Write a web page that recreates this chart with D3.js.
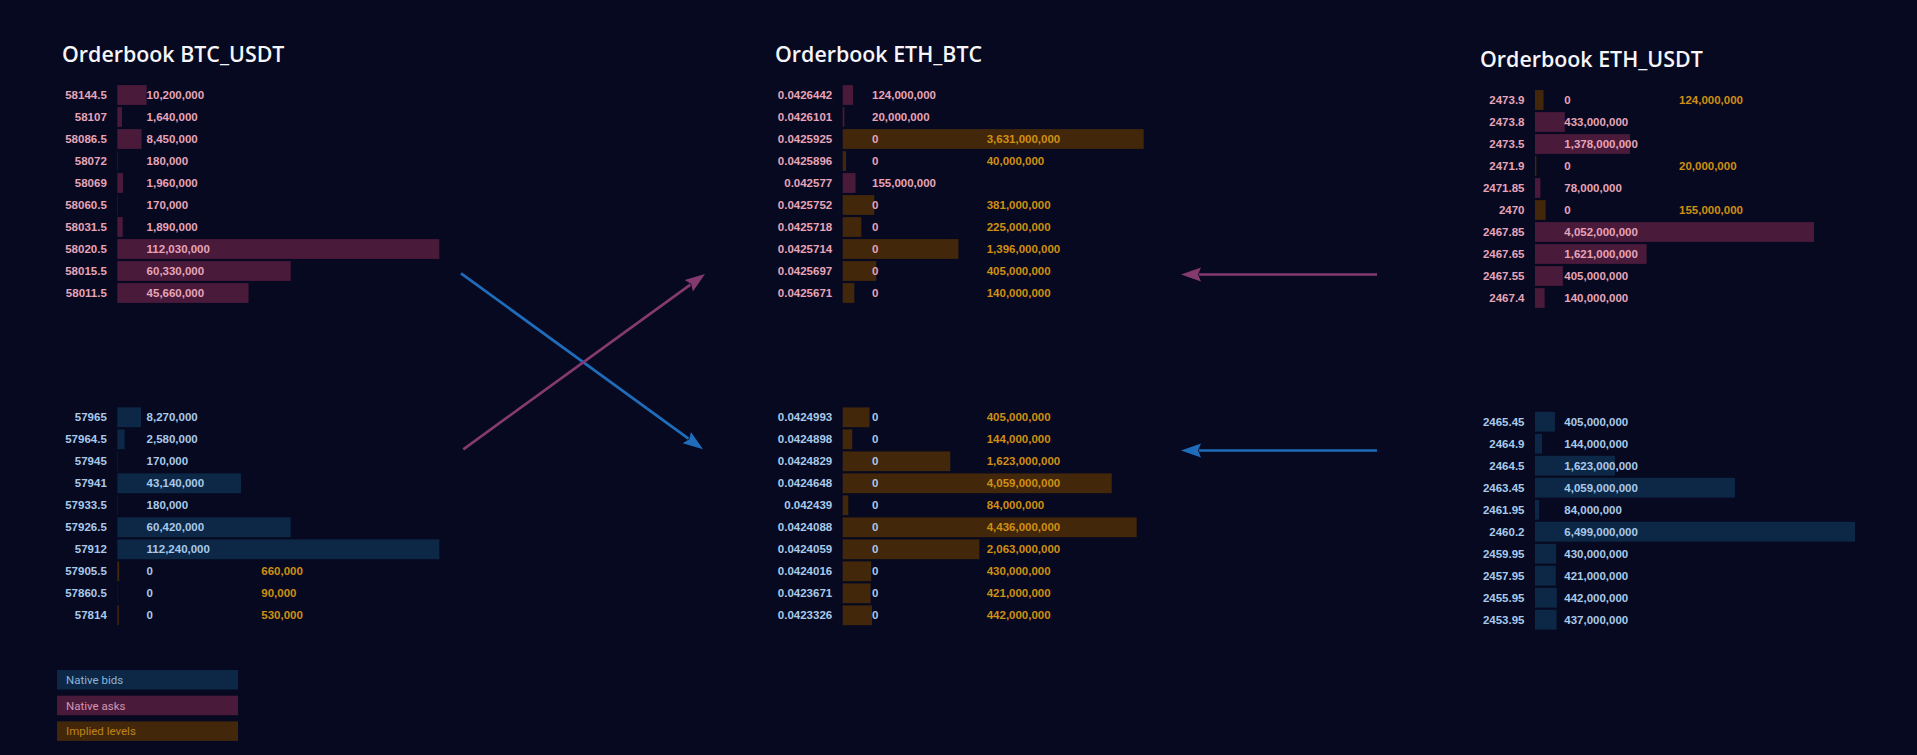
<!DOCTYPE html>
<html>
<head>
<meta charset="utf-8">
<script src="https://cdn.jsdelivr.net/npm/d3@7"></script>
<style>
  body { margin: 0; background: #060920; }
  svg { display: block; }
</style>
</head>
<body>
<script>
// ---- data ----
const btcUsdtAskPrices = ["58144.5", "58107", "58086.5", "58072", "58069", "58060.5", "58031.5", "58020.5", "58015.5", "58011.5"];
const btcUsdtAskNative = [10200000, 1640000, 8450000, 180000, 1960000, 170000, 1890000, 112030000, 60330000, 45660000];
const btcUsdtAskImplied = [null, null, null, null, null, null, null, null, null, null];
const btcUsdtBidPrices = ["57965", "57964.5", "57945", "57941", "57933.5", "57926.5", "57912", "57905.5", "57860.5", "57814"];
const btcUsdtBidNative = [8270000, 2580000, 170000, 43140000, 180000, 60420000, 112240000, 0, 0, 0];
const btcUsdtBidImplied = [null, null, null, null, null, null, null, 660000, 90000, 530000];

const ethBtcAskPrices = ["0.0426442", "0.0426101", "0.0425925", "0.0425896", "0.042577", "0.0425752", "0.0425718", "0.0425714", "0.0425697", "0.0425671"];
const ethBtcAskNative = [124000000, 20000000, 0, 0, 155000000, 0, 0, 0, 0, 0];
const ethBtcAskImplied = [null, null, 3631000000, 40000000, null, 381000000, 225000000, 1396000000, 405000000, 140000000];
const ethBtcBidPrices = ["0.0424993", "0.0424898", "0.0424829", "0.0424648", "0.042439", "0.0424088", "0.0424059", "0.0424016", "0.0423671", "0.0423326"];
const ethBtcBidNative = [0, 0, 0, 0, 0, 0, 0, 0, 0, 0];
const ethBtcBidImplied = [405000000, 144000000, 1623000000, 4059000000, 84000000, 4436000000, 2063000000, 430000000, 421000000, 442000000];

const ethUsdtAskPrices = ["2473.9", "2473.8", "2473.5", "2471.9", "2471.85", "2470", "2467.85", "2467.65", "2467.55", "2467.4"];
const ethUsdtAskNative = [0, 433000000, 1378000000, 0, 78000000, 0, 4052000000, 1621000000, 405000000, 140000000];
const ethUsdtAskImplied = [124000000, null, null, 20000000, null, 155000000, null, null, null, null];
const ethUsdtBidPrices = ["2465.45", "2464.9", "2464.5", "2463.45", "2461.95", "2460.2", "2459.95", "2457.95", "2455.95", "2453.95"];
const ethUsdtBidNative = [405000000, 144000000, 1623000000, 4059000000, 84000000, 6499000000, 430000000, 421000000, 442000000, 437000000];
const ethUsdtBidImplied = [null, null, null, null, null, null, null, null, null, null];

const titles = ["Orderbook BTC_USDT", "Orderbook ETH_BTC", "Orderbook ETH_USDT"];
const legendLabels = ["Native bids", "Native asks", "Implied levels"];

// ---- colours ----
const col = {
  bg: "#060920",
  bidBar: "#0c2846", askBar: "#4a1a3a", impBar: "#43270b",
  bidText: "#a9c9ea", askText: "#e6a4b8", impText: "#cf8f12",
  blueArrow: "#1f6cbb", pinkArrow: "#853a6f"
};

function side(prices, native, implied) {
  return prices.map((p, i) => ({price: p, native: native[i], implied: implied[i]}));
}

const books = [
  {title: titles[0], asks: side(btcUsdtAskPrices, btcUsdtAskNative, btcUsdtAskImplied), bids: side(btcUsdtBidPrices, btcUsdtBidNative, btcUsdtBidImplied)},
  {title: titles[1], asks: side(ethBtcAskPrices, ethBtcAskNative, ethBtcAskImplied), bids: side(ethBtcBidPrices, ethBtcBidNative, ethBtcBidImplied)},
  {title: titles[2], asks: side(ethUsdtAskPrices, ethUsdtAskNative, ethUsdtAskImplied), bids: side(ethUsdtBidPrices, ethUsdtBidNative, ethUsdtBidImplied)}
];

// ---- layout ----
const width = 1917, height = 755;
const bandH = 220;
const panels = [
  {x: 117.3, titleX: 62, titleY: 62, askTop: 84, bidTop: 406.3, askW: 322, bidW: 322},
  {x: 842.7, titleX: 775, titleY: 62, askTop: 84, bidTop: 406.3, askW: 301, bidW: 294},
  {x: 1535, titleX: 1480, titleY: 66.5, askTop: 89, bidTop: 410.7, askW: 279, bidW: 320}
];

const fmt = d3.format(",");

const svg = d3.select("body").append("svg")
    .attr("width", width)
    .attr("height", height)
    .style("background", col.bg);

books.forEach((book, i) => {
  const p = panels[i];

  svg.append("text")
      .attr("x", p.titleX)
      .attr("y", p.titleY)
      .attr("fill", "#f5f5fa")
      .style("font-family", "'Open Sans', sans-serif")
      .style("font-weight", 600)
      .style("font-size", "21.4px")
      .text(book.title);

  drawSide(book.asks, p.x, p.askTop, p.askW, col.askBar, col.askText);
  drawSide(book.bids, p.x, p.bidTop, p.bidW, col.bidBar, col.bidText);
});

function drawSide(rows, x0, top, maxW, barColor, textColor) {
  const y = d3.scaleBand()
      .domain(rows.map(d => d.price))
      .range([top, top + bandH])
      .paddingInner(0.1)
      .paddingOuter(0.05);

  const x = d3.scaleLinear()
      .domain([0, d3.max(rows, d => d.native + (d.implied || 0))])
      .range([0, maxW]);

  const g = svg.append("g").attr("transform", `translate(${x0},0)`);

  const row = g.selectAll("g.row")
    .data(rows)
    .enter().append("g")
      .attr("class", "row");

  row.append("rect")
      .attr("x", 0)
      .attr("y", d => y(d.price))
      .attr("width", d => x(d.native + (d.implied || 0)))
      .attr("height", y.bandwidth())
      .attr("fill", d => d.implied ? col.impBar : barColor);

  const cy = d => y(d.price) + y.bandwidth() / 2;

  row.append("text")
      .attr("x", -10.5)
      .attr("y", cy)
      .attr("dy", "0.35em")
      .attr("text-anchor", "end")
      .attr("fill", textColor)
      .attr("class", "num")
      .text(d => d.price);

  row.append("text")
      .attr("x", 29.3)
      .attr("y", cy)
      .attr("dy", "0.35em")
      .attr("fill", textColor)
      .attr("class", "num")
      .text(d => fmt(d.native));

  row.filter(d => d.implied != null).append("text")
      .attr("x", 144)
      .attr("y", cy)
      .attr("dy", "0.35em")
      .attr("fill", col.impText)
      .attr("class", "num")
      .text(d => fmt(d.implied));
}

svg.selectAll("text.num")
    .style("font-family", "'Liberation Sans', Arial, sans-serif")
    .style("font-weight", "bold")
    .style("font-size", "11.5px");

// ---- arrows between the books ----
const arrows = [
  {x1: 461, y1: 273.3, x2: 703, y2: 449.3, color: col.blueArrow},
  {x1: 463.3, y1: 449.3, x2: 705, y2: 274, color: col.pinkArrow},
  {x1: 1377, y1: 274.5, x2: 1181, y2: 274.5, color: col.pinkArrow},
  {x1: 1377, y1: 450.5, x2: 1181, y2: 450.5, color: col.blueArrow}
];

const headLen = 20, headW = 14;
arrows.forEach(a => {
  const dx = a.x2 - a.x1, dy = a.y2 - a.y1;
  const len = Math.hypot(dx, dy);
  const ux = dx / len, uy = dy / len;
  const bx = a.x2 - ux * headLen, by = a.y2 - uy * headLen;

  svg.append("line")
      .attr("x1", a.x1).attr("y1", a.y1)
      .attr("x2", bx + ux * 2).attr("y2", by + uy * 2)
      .attr("stroke", a.color)
      .attr("stroke-width", 2.7);

  const pts = [
    [a.x2, a.y2],
    [bx - uy * headW / 2, by + ux * headW / 2],
    [bx + ux * 3, by + uy * 3],
    [bx + uy * headW / 2, by - ux * headW / 2]
  ];
  svg.append("path")
      .attr("d", d3.line()(pts) + "Z")
      .attr("fill", a.color);
});

// ---- legend ----
const legendColors = [col.bidBar, col.askBar, col.impBar];
const legendText = ["#8fb3d6", "#d496b0", "#bf8418"];
const legend = svg.append("g").attr("transform", "translate(57,670)");

const item = legend.selectAll("g")
  .data(legendLabels)
  .enter().append("g")
    .attr("transform", (d, i) => `translate(0,${i * 25.7})`);

item.append("rect")
    .attr("width", 181)
    .attr("height", 19.5)
    .attr("fill", (d, i) => legendColors[i]);

item.append("text")
    .attr("x", 9)
    .attr("y", 10)
    .attr("dy", "0.35em")
    .attr("fill", (d, i) => legendText[i])
    .style("font-family", "Roboto, sans-serif")
    .style("font-size", "11.5px")
    .text(d => d);
</script>
</body>
</html>
